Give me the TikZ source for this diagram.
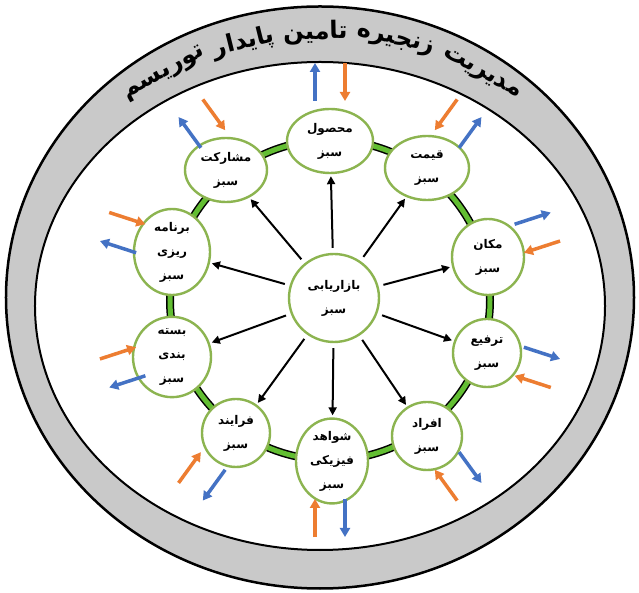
\documentclass[tikz,border=0pt]{standalone}
\usepackage{fontspec}
\usetikzlibrary{shapes.geometric,arrows.meta,calc}
\TeXXeTstate=1
\newfontfamily\arabicfont[Script=Arabic]{DejaVu Sans}
\newcommand\faText[1]{\beginR #1\endR}
\newcommand\titlefont{\arabicfont\bfseries\fontsize{24}{24}\selectfont}
\newlength\wordlen
\newsavebox\wordbox
\newcommand\measureword[2]{\sbox\wordbox{\titlefont\faText{#2}}\setlength\wordlen{\wd\wordbox}\pgfmathsetmacro#1{\wordlen}}
\definecolor{ringgreen}{RGB}{98,190,50}
\definecolor{nodegreen}{RGB}{140,180,80}
\definecolor{bandgray}{RGB}{201,201,201}
\definecolor{arrorange}{RGB}{237,125,49}
\definecolor{arrblue}{RGB}{68,114,196}
\begin{document}
\measureword\wA{مدیریت}%
\measureword\wB{زنجیره}%
\measureword\wC{تامین}%
\measureword\wD{پایدار}%
\measureword\wE{توریسم}%
\pgfmathsetmacro\tgap{9}%
\pgfmathsetmacro\kk{57.29578/325}%
\pgfmathsetmacro\ttot{\wA+\wB+\wC+\wD+\wE+4*\tgap}%
\pgfmathsetmacro\aA{90-(\ttot/2)*\kk+(\wA/2)*\kk}%
\pgfmathsetmacro\aB{\aA+(\wA/2+\tgap+\wB/2)*\kk}%
\pgfmathsetmacro\aC{\aB+(\wB/2+\tgap+\wC/2)*\kk}%
\pgfmathsetmacro\aD{\aC+(\wC/2+\tgap+\wD/2)*\kk}%
\pgfmathsetmacro\aE{\aD+(\wD/2+\tgap+\wE/2)*\kk}%
\begin{tikzpicture}[x=1pt,y=1pt,
  mix/.style={ellipse, draw=nodegreen, line width=2.4pt, fill=white, inner sep=0pt,
    font=\arabicfont\bfseries\fontsize{12}{24}\selectfont, align=center},
  spoke/.style={line width=2pt, -{Triangle[length=8pt,width=8pt]}, shorten >=2pt, shorten <=5pt},
  inarr/.style={arrorange, line width=3.5pt, -{Triangle[length=9pt,width=10pt]}},
  outarr/.style={arrblue, line width=3.5pt, -{Triangle[length=9pt,width=10pt]}},
  titleword/.style={font=\titlefont, inner sep=0pt}
]
\useasboundingbox (-330,-293) rectangle (309,300);
% band
\draw[fill=bandgray, line width=2.5pt] (-10,2.5) ellipse [x radius=314pt, y radius=291pt];
\draw[fill=white, line width=2pt] (-10,-6) ellipse [x radius=285pt, y radius=244pt];
% title along an arc
\coordinate (tc) at (-8,-58);
\node[titleword, rotate=\aA-90] (t1) at ([shift={(\aA:325pt)}]tc) {\faText{مدیریت}};
\node[titleword, rotate=\aB-90] (t2) at ([shift={(\aB:325pt)}]tc) {\faText{زنجیره}};
\node[titleword, rotate=\aC-90] (t3) at ([shift={(\aC:325pt)}]tc) {\faText{تامین}};
\node[titleword, rotate=\aD-90] (t4) at ([shift={(\aD:325pt)}]tc) {\faText{پایدار}};
\node[titleword, rotate=\aE-90] (t5) at ([shift={(\aE:325pt)}]tc) {\faText{توریسم}};
% ring
\draw[black, line width=8pt] (0,0) circle (160pt);
\draw[ringgreen, line width=5pt] (0,0) circle (160pt);
% nodes
\node[mix, minimum width=90pt, minimum height=88pt] (c) at (4,2) {\faText{بازاریابی}\\\faText{سبز}};
\node[mix, minimum width=86pt, minimum height=64pt] (n1) at (0,159) {\faText{محصول}\\\faText{سبز}};
\node[mix, minimum width=84pt, minimum height=64pt] (n2) at (97,132) {\faText{قیمت}\\\faText{سبز}};
\node[mix, minimum width=72pt, minimum height=76pt] (n3) at (158,43) {\faText{مکان}\\\faText{سبز}};
\node[mix, minimum width=68pt, minimum height=68pt] (n4) at (157,-53) {\faText{ترفیع}\\\faText{سبز}};
\node[mix, minimum width=70pt, minimum height=68pt] (n5) at (97,-136) {\faText{افراد}\\\faText{سبز}};
\node[mix, minimum width=72pt, minimum height=78pt] (n6) at (2,-161) {\faText{شواهد}\\\faText{فیزیکی}\\\faText{سبز}};
\node[mix, minimum width=68pt, minimum height=68pt] (n7) at (-94,-133) {\faText{فرایند}\\\faText{سبز}};
\node[mix, minimum width=78pt, minimum height=80pt] (n8) at (-158,-57) {\faText{بسته}\\\faText{بندی}\\\faText{سبز}};
\node[mix, minimum width=76pt, minimum height=86pt] (n9) at (-158,48) {\faText{برنامه}\\\faText{ریزی}\\\faText{سبز}};
\node[mix, minimum width=82pt, minimum height=64pt] (n10) at (-104,130) {\faText{مشارکت}\\\faText{سبز}};
% spokes
\foreach \i in {1,...,10} {\draw[spoke] (c) -- (n\i);}
% outer arrows
\foreach \a/\s [count=\i] in {90/1,54/-1,18/1,-18/1,-54/1,-90/1,-126/1,-162/1,162/1,126/1} {
  \begin{scope}[rotate=\a]
    \coordinate (bs\i) at (199,15*\s);
    \coordinate (be\i) at (237,15*\s);
    \coordinate (os\i) at (237,-15*\s);
    \coordinate (oe\i) at (199,-15*\s);
  \end{scope}
  \draw[outarr] (bs\i) -- (be\i);
  \draw[inarr] (os\i) -- (oe\i);
}
\end{tikzpicture}
\end{document}
